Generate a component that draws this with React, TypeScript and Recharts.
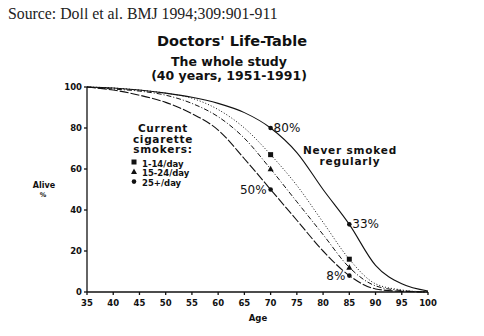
import { ComposedChart, Line, XAxis, YAxis } from 'recharts'

// survival (% alive) by age
const ages = [35, 40, 45, 50, 55, 60, 65, 70, 75, 80, 85, 90, 95, 100]
const neverSmoked = [100, 99.5, 98.5, 97, 95, 92, 87.5, 80, 68, 50, 33, 13, 4, 0.5]
const light = [100, 99.5, 98.5, 97, 94.5, 89, 80, 67, 52, 34, 16, 4, 1, 0]
const medium = [100, 99, 98, 96, 92, 85.5, 75, 60, 44, 28, 12, 3, 0.7, 0]
const heavy = [100, 98.5, 96, 92.5, 87, 79, 65, 50, 35, 20, 8, 1.5, 0.3, 0]

const yTicks = [0, 20, 40, 60, 80, 100]
const markedAges = [70, 85]
const legendItems = ['1-14/day', '15-24/day', '25+/day']

const chartData = ages.map((age, i) => ({
  age,
  never: neverSmoked[i],
  light: light[i],
  medium: medium[i],
  heavy: heavy[i],
}))

const sans = '"DejaVu Sans", Verdana, sans-serif'
const ink = '#111'

type Shape = 'circle' | 'square' | 'triangle'

function marker(shape: Shape, x: number, y: number) {
  if (shape === 'square') return <rect x={x - 2.5} y={y - 2.5} width={5} height={5} fill={ink} />
  if (shape === 'triangle') return <path d={`M${x},${y - 3.2} L${x + 3},${y + 2.3} L${x - 3},${y + 2.3} Z`} fill={ink} />
  return <circle cx={x} cy={y} r={2.3} fill={ink} />
}

function makeDot(shape: Shape, labelSide?: 'left' | 'right') {
  return (props: any) => {
    const { cx, cy, payload, value, index } = props
    if (!markedAges.includes(payload.age)) return <g key={index} />
    return (
      <g key={index}>
        {marker(shape, cx, cy)}
        {labelSide && (
          <text
            x={labelSide === 'right' ? cx + 3 : cx - 4}
            y={cy + 4}
            textAnchor={labelSide === 'right' ? 'start' : 'end'}
            fontFamily={sans}
            fontSize={12}
            fill={ink}
          >
            {`${value}%`}
          </text>
        )}
      </g>
    )
  }
}

const tickStyle = { fontSize: 8.5, fontWeight: 'bold', fill: ink, fontFamily: sans }

export default function App() {
  const shapes: Shape[] = ['square', 'triangle', 'circle']
  return (
    <div style={{ position: 'relative', width: 484, height: 336, margin: -8, background: '#fff' }}>
      <svg width={484} height={336} style={{ position: 'absolute', left: 0, top: 0 }}>
        <text x={8} y={19} fontFamily='"Liberation Serif", "DejaVu Serif", serif' fontSize={15.8} fill="#222">
          Source: Doll et al. BMJ 1994;309:901-911
        </text>
        <text x={232} y={46} textAnchor="middle" fontFamily={sans} fontWeight="bold" fontSize={14.5} fill={ink}>
          Doctors' Life-Table
        </text>
        <text x={229} y={66} textAnchor="middle" fontFamily={sans} fontWeight="bold" fontSize={12.5} fill={ink}>
          The whole study
        </text>
        <text x={229} y={80} textAnchor="middle" fontFamily={sans} fontWeight="bold" fontSize={12.5} fill={ink}>
          (40 years, 1951-1991)
        </text>
        <text x={44} y={188} textAnchor="middle" fontFamily={sans} fontWeight="bold" fontSize={8} fill={ink}>Alive</text>
        <text x={43} y={197} textAnchor="middle" fontFamily={sans} fontWeight="bold" fontSize={6.5} fill={ink}>%</text>
        <text x={258} y={321} textAnchor="middle" fontFamily={sans} fontWeight="bold" fontSize={8.5} fill={ink}>Age</text>

        <g fontFamily={sans} fontWeight="bold" fill={ink}>
          <text x={163} y={132} textAnchor="middle" fontSize={10.5} letterSpacing={0.7}>Current</text>
          <text x={163} y={142.5} textAnchor="middle" fontSize={10.5} letterSpacing={0.7}>cigarette</text>
          <text x={163} y={153} textAnchor="middle" fontSize={10.5} letterSpacing={0.7}>smokers:</text>
          {legendItems.map((label, i) => (
            <g key={label}>
              {marker(shapes[i], 134, 162 + i * 9.8)}
              <text x={142} y={166.5 + i * 9.8} fontSize={8.5}>{label}</text>
            </g>
          ))}
          <text x={350} y={153.5} textAnchor="middle" fontSize={10.5} letterSpacing={0.8}>Never smoked</text>
          <text x={350} y={164.5} textAnchor="middle" fontSize={10.5} letterSpacing={0.8}>regularly</text>
        </g>
      </svg>
      <div style={{ position: 'absolute', left: 0, top: 0 }}>
        <ComposedChart width={484} height={336} data={chartData} margin={{ top: 87, right: 56, bottom: 0, left: 0 }}>
          <XAxis
            dataKey="age"
            type="number"
            domain={[35, 100]}
            ticks={ages}
            height={44}
            tick={tickStyle}
            tickSize={3}
            stroke={ink}
            strokeWidth={1.3}
            tickMargin={5}
            interval={0}
          />
          <YAxis
            type="number"
            domain={[0, 100]}
            ticks={yTicks}
            width={87}
            tick={tickStyle}
            tickSize={3}
            stroke={ink}
            strokeWidth={1.3}
            tickMargin={2}
          />
          <Line
            dataKey="never"
            type="monotone"
            stroke={ink}
            strokeWidth={1.1}
            dot={makeDot('circle', 'right')}
            activeDot={false}
            isAnimationActive={false}
          />
          <Line
            dataKey="light"
            type="monotone"
            stroke={ink}
            strokeWidth={1}
            strokeDasharray="1 2"
            dot={makeDot('square')}
            activeDot={false}
            isAnimationActive={false}
          />
          <Line
            dataKey="medium"
            type="monotone"
            stroke={ink}
            strokeWidth={1}
            strokeDasharray="5 2 1 2"
            dot={makeDot('triangle')}
            activeDot={false}
            isAnimationActive={false}
          />
          <Line
            dataKey="heavy"
            type="monotone"
            stroke={ink}
            strokeWidth={1.1}
            strokeDasharray="9 2"
            dot={makeDot('circle', 'left')}
            activeDot={false}
            isAnimationActive={false}
          />
        </ComposedChart>
      </div>
    </div>
  )
}
